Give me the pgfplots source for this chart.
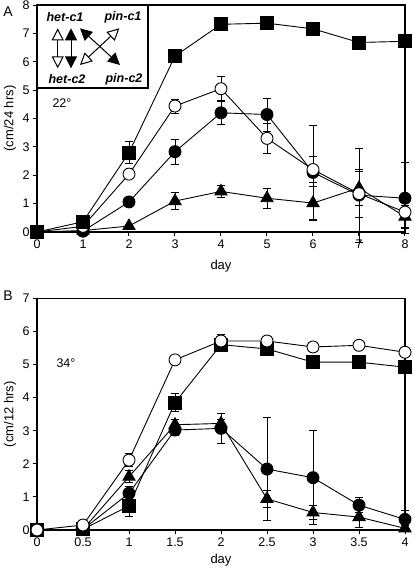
\documentclass[border=0pt]{standalone}
\usepackage{fontspec}
\setmainfont{Liberation Sans}
\usepackage{pgfplots}
\pgfplotsset{compat=1.18}
\usepackage{pgfplotstable}
\usetikzlibrary{arrows.meta}

\pgfplotstableread{
x y e
0 0 0
1 0.36 0
2 2.80 0.38
3 6.20 0
4 7.32 0
5 7.36 0
6 7.16 0
7 6.68 0
8 6.72 0
}\Asq
\pgfplotstableread{
x y e
0 0 0
1 0.20 0
2 2.04 0.15
3 4.44 0.25
4 5.05 0.42
5 3.30 0.53
6 2.20 0.45
7 1.35 0.85
8 0.70 0.55
}\Aoc
\pgfplotstableread{
x y e
0 0 0
1 0.03 0
2 1.06 0
3 2.83 0.45
4 4.20 0.40
5 4.14 0.58
6 2.10 1.65
7 1.30 1.65
8 1.19 1.25
}\Afc
\pgfplotstableread{
x y e
0 0 0
1 0.05 0
2 0.21 0
3 1.09 0.30
4 1.43 0.22
5 1.19 0.35
6 1.02 0.60
7 1.55 0.60
8 0.54 0.40
}\Atr
\pgfplotstableread{
x y e
0 0 0
0.5 0.15 0
1 2.11 0.2
1.5 5.14 0.15
2 5.71 0.2
2.5 5.71 0
3 5.53 0
3.5 5.58 0
4 5.37 0.12
}\Boc
\pgfplotstableread{
x y e
0 0 0
0.5 0.02 0
1 0.73 0.32
1.5 3.85 0.28
2 5.60 0
2.5 5.47 0
3 5.07 0
3.5 5.07 0
4 4.92 0
}\Bsq
\pgfplotstableread{
x y e
0 0 0
0.5 0.02 0
1 1.11 0.2
1.5 3.02 0.15
2 3.07 0.45
2.5 1.84 1.56
3 1.58 1.42
3.5 0.75 0.22
4 0.32 0.27
}\Bfc
\pgfplotstableread{
x y e
0 0 0
0.5 0.02 0
1 1.61 0.18
1.5 3.18 0.15
2 3.22 0.12
2.5 0.94 0.25
3 0.53 0.2
3.5 0.39 0.3
4 0.05 0.1
}\Btr

\pgfplotsset{
  panel/.style={
    scale only axis, width=368pt,
    axis line style={line width=1.1pt},
    tick align=outside, xtick pos=bottom, ytick pos=left,
    major tick length=4pt,
    tick style={line width=1pt, black},
    tick label style={font=\fontsize{12.5}{14}\selectfont},
    /pgf/number format/assume math mode=true,
    clip=false,
    label style={font=\fontsize{13}{15}\selectfont},
    ylabel style={at={([xshift=-27pt]axis description cs:0,0.5)}, anchor=center},
  },
  ser/.style={line width=0.9pt, black,
    error bars/y dir=both, error bars/y explicit,
    error bars/error bar style={line width=0.8pt, black},
    error bars/error mark options={mark size=4pt, line width=0.8pt, black, rotate=90}},
  sq/.style={ser, mark=square*, mark size=6.5pt, mark options={fill=black, draw=black, line width=0.9pt}},
  fc/.style={ser, mark=*, mark size=6pt, mark options={fill=black, draw=black, line width=0.9pt}},
  oc/.style={ser, mark=*, mark size=6pt, mark options={fill=white, draw=black, line width=0.9pt}},
  tr/.style={ser, mark=triangle*, mark size=7pt, mark options={fill=black, draw=black, line width=0.9pt}},
}

\begin{document}
\begin{tikzpicture}[x=1pt,y=1pt]
\useasboundingbox (0,0) rectangle (415,571);

\begin{axis}[panel, at={(37pt,339pt)}, anchor=south west, height=227pt,
  xmin=0, xmax=8, ymin=0, ymax=8, xtick={0,...,8}, ytick={0,...,8},
  xlabel={day}, ylabel={(cm/24 hrs)},
  xlabel style={at={(axis description cs:0.5,0)}, anchor=center, yshift=-34pt}]
\addplot[tr] table[x=x,y=y,y error=e] {\Atr};
\addplot[fc] table[x=x,y=y,y error=e] {\Afc};
\addplot[oc] table[x=x,y=y,y error=e] {\Aoc};
\addplot[sq] table[x=x,y=y,y error=e] {\Asq};
\end{axis}

\begin{axis}[panel, at={(37pt,41pt)}, anchor=south west, height=231.7pt,
  xmin=0, xmax=4, ymin=0, ymax=7, xtick={0,0.5,...,4}, ytick={0,...,7},
  xlabel={day}, ylabel={(cm/12 hrs)},
  xlabel style={at={(axis description cs:0.5,0)}, anchor=center, yshift=-30pt}]
\addplot[tr] table[x=x,y=y,y error=e] {\Btr};
\addplot[fc] table[x=x,y=y,y error=e] {\Bfc};
\addplot[sq] table[x=x,y=y,y error=e] {\Bsq};
\addplot[oc] table[x=x,y=y,y error=e] {\Boc};
\end{axis}

% key box in panel A
\draw[line width=1.1pt, fill=white] (37,566) rectangle (148,483);
\begin{scope}[line width=1pt]
\draw[{Triangle[open,length=12pt,width=12pt]}-{Triangle[open,length=12pt,width=12pt]}] (57.7,542.7) -- (57.7,502.7);
\draw[{Triangle[length=12pt,width=12pt]}-{Triangle[length=12pt,width=12pt]}] (71,542.7) -- (71,502.7);
\draw[{Triangle[length=12pt,width=12pt]}-{Triangle[length=12pt,width=12pt]}] (80,542.7) -- (120,506);
\draw[{Triangle[open,length=12pt,width=12pt]}-{Triangle[open,length=12pt,width=12pt]}] (119.3,542.7) -- (80,506);
\end{scope}
\begin{scope}[font=\fontsize{12.5}{14}\selectfont\bfseries\itshape]
\node at (65,554) {het-c1};
\node at (123,554) {pin-c1};
\node at (67,492) {het-c2};
\node at (124,492) {pin-c2};
\end{scope}
\node[font=\fontsize{12.5}{14}\selectfont] at (62,468) {22°};
\node[font=\fontsize{12.5}{14}\selectfont] at (66,208) {34°};
\node[font=\fontsize{14}{16}\selectfont] at (8,559) {A};
\node[font=\fontsize{14}{16}\selectfont] at (8,275) {B};
\end{tikzpicture}
\end{document}
